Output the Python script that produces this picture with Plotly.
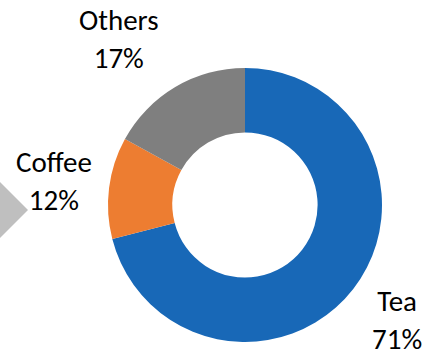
import plotly.graph_objects as go

labels = ["Tea", "Coffee", "Others"]
values = [71, 12, 17]
colors = ["#1868B7", "#ED7D31", "#7F7F7F"]

W, H = 424, 357
cx, cy, r = 245, 205, 137

def px(x):
    return x / W

def py(y):
    return 1 - y / H

fig = go.Figure()
fig.add_trace(go.Pie(
    labels=labels, values=values, hole=0.53, sort=False,
    direction="clockwise", rotation=0,
    marker=dict(colors=colors, line=dict(width=0)),
    textinfo="none", hoverinfo="label+percent", showlegend=False,
    domain=dict(x=[px(cx - r), px(cx + r)], y=[py(cy + r), py(cy - r)]),
))

label_pos = {"Others": (119, 39), "Coffee": (54, 181), "Tea": (397, 320)}
total = sum(values)
for lab, val in zip(labels, values):
    x, y = label_pos[lab]
    fig.add_annotation(
        x=px(x), y=py(y), xref="paper", yref="paper",
        text=f"{lab}<br>{round(100 * val / total)}%", showarrow=False,
        font=dict(family="Carlito, Calibri, Lato, sans-serif", size=29, color="#000000"),
        align="center", xanchor="center", yanchor="middle",
    )

fig.add_shape(
    type="path", xref="paper", yref="paper",
    path=f"M {px(-40)},{py(142)} L {px(28)},{py(210)} L {px(-40)},{py(278)} Z",
    fillcolor="#BFBFBF", line=dict(width=0),
)

fig.update_layout(
    width=W, height=H, margin=dict(l=0, r=0, t=0, b=0),
    paper_bgcolor="white", plot_bgcolor="white",
)
fig.write_html("out.html")
